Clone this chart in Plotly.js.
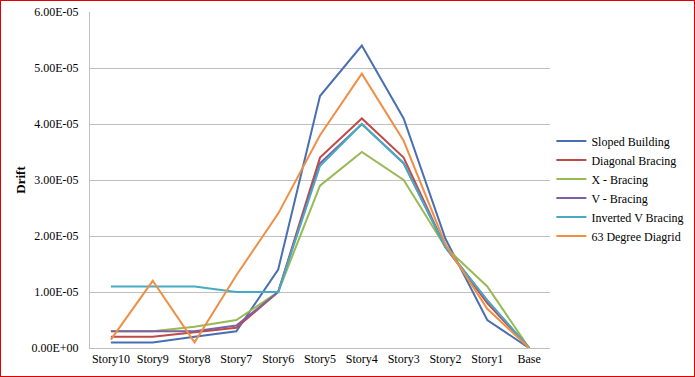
<!DOCTYPE html>
<html>
<head>
<meta charset="utf-8">
<script src="https://cdn.plot.ly/plotly-3.0.1.min.js"></script>
<style>
html,body{margin:0;padding:0;background:#fff;}
#chart{width:693px;height:375px;border:1px solid #e00000;}
</style>
</head>
<body>
<div id="chart"></div>
<script>
var categories = ["Story10","Story9","Story8","Story7","Story6","Story5","Story4","Story3","Story2","Story1","Base"];
var seriesNames = ["Sloped Building","Diagonal Bracing","X - Bracing","V - Bracing","Inverted V Bracing","63 Degree Diagrid"];
var sloped    = [1e-6, 1e-6, 2e-6, 3e-6, 1.4e-5, 4.5e-5, 5.4e-5, 4.1e-5, 1.95e-5, 5e-6, 0];
var diagonal  = [2e-6, 2e-6, 2.8e-6, 3.6e-6, 1e-5, 3.4e-5, 4.1e-5, 3.4e-5, 1.8e-5, 8e-6, 0];
var xBracing  = [3e-6, 3e-6, 3.8e-6, 5e-6, 1e-5, 2.9e-5, 3.5e-5, 3e-5, 1.8e-5, 1.1e-5, 0];
var vBracing  = [3e-6, 3e-6, 3e-6, 4e-6, 1e-5, 3.3e-5, 4e-5, 3.3e-5, 1.8e-5, 8.5e-6, 0];
var invV      = [1.1e-5, 1.1e-5, 1.1e-5, 1e-5, 1e-5, 3.25e-5, 4e-5, 3.3e-5, 1.8e-5, 8.5e-6, 0];
var diagrid   = [1.5e-6, 1.2e-5, 1e-6, 1.3e-5, 2.4e-5, 3.8e-5, 4.9e-5, 3.7e-5, 1.85e-5, 7e-6, 0];
var yTickVals = [0, 1e-5, 2e-5, 3e-5, 4e-5, 5e-5, 6e-5];
var yTickText = ["0.00E+00","1.00E-05","2.00E-05","3.00E-05","4.00E-05","5.00E-05","6.00E-05"];

var allSeries = [sloped, diagonal, xBracing, vBracing, invV, diagrid];
var colors = ["#4A6FB0","#BE4B48","#98B954","#7D60A0","#46AAC5","#EE8F45"];
var traces = allSeries.map(function(vals, i){
  return {x: categories, y: vals, name: seriesNames[i], type: "scatter", mode: "lines",
          line: {color: colors[i], width: 2}};
});

var fam = "Liberation Serif";
var font = {family: fam, size: 12, color: "#000"};
var layout = {
  width: 693, height: 375,
  margin: {l: 89, r: 144, t: 11, b: 28, autoexpand: false},
  paper_bgcolor: "#fff", plot_bgcolor: "#fff",
  font: font,
  showlegend: true,
  legend: {x: 1.003, y: 0.475, xanchor: "left", yanchor: "middle", font: {family: fam, size: 12, color: "#000"},
           bgcolor: "rgba(0,0,0,0)", tracegroupgap: 0},
  xaxis: {type: "category", range: [-0.5, 10.5], showgrid: false, zeroline: false, automargin: false,
          showline: true, linecolor: "#BFBFBF", linewidth: 1, ticks: "", tickfont: font, fixedrange: true},
  yaxis: {range: [0, 6e-5], tickvals: yTickVals, ticktext: yTickText, showgrid: true, gridcolor: "#BFBFBF",
          gridwidth: 1, zeroline: false, showline: true, linecolor: "#BFBFBF", linewidth: 1, automargin: false,
          ticks: "", ticklabelstandoff: 8, tickfont: font,
          title: {text: "<b>Drift</b>", font: {family: fam, size: 13, color: "#000"}, standoff: 2}}
};
Plotly.newPlot("chart", traces, layout, {displayModeBar: false, staticPlot: true});
</script>
</body>
</html>
